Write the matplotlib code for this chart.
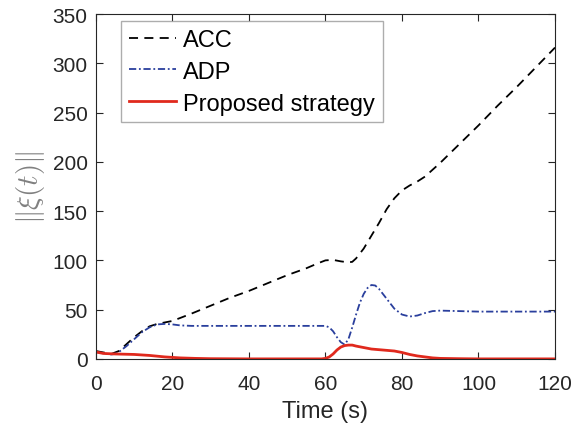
import numpy as np
import matplotlib
matplotlib.use('Agg')
import matplotlib.pyplot as plt

plt.rcParams['font.family'] = ['Liberation Sans', 'DejaVu Sans']
plt.rcParams['mathtext.fontset'] = 'cm'

# ===== Dati =====
t_acc = np.array([0, 2, 4, 6, 8, 10, 12, 14, 16, 18, 20, 25, 30, 35, 40, 45, 50, 55, 58, 60,
                  62, 64, 66, 67, 68, 70, 72, 74, 76, 78, 80, 82, 84, 86, 88, 90, 95, 100,
                  105, 110, 115, 120])
acc = np.array([8, 6.5, 5, 8, 15, 22, 28, 33, 35.5, 37, 38.5, 46, 54, 62, 69, 77, 85, 92, 97, 100,
                100.5, 99, 98, 98.5, 102, 112, 125, 138, 152, 163, 171, 176, 180, 185, 192, 199,
                218, 237, 257, 276, 296, 316])

t_adp = np.array([0, 2, 4, 5, 6, 8, 10, 12, 14, 16, 18, 20, 22, 25, 30, 40, 50, 58, 60, 61, 62,
                  63, 64, 65, 66, 67, 68, 69, 70, 71, 72, 73, 74, 76, 78, 80, 82, 84, 86, 88,
                  90, 95, 100, 110, 120])
adp = np.array([7, 5.5, 4.5, 5, 7, 13, 20, 27, 32, 35, 35.5, 35, 34, 33.5, 33.5, 33.5, 33.5,
                33.5, 33.5, 32, 28, 22, 17, 14.5, 20, 32, 45, 57, 66, 72, 75, 74.5, 71, 61, 51,
                45, 43, 44, 46.5, 48.5, 49, 48.5, 48, 48, 48])

t_prop = np.array([0, 2, 5, 10, 14, 18, 22, 26, 30, 40, 59, 60, 61, 62, 63, 64, 65, 66, 67, 68,
                   70, 72, 75, 78, 80, 82, 84, 86, 88, 90, 95, 100, 120])
prop = np.array([7, 5.5, 5, 4.5, 3.5, 2, 1, 0.5, 0.2, 0, 0, 0.5, 2, 5, 9, 12, 13.5, 14, 14, 13,
                 11.5, 10, 9, 8, 6.5, 4.5, 3, 2, 1, 0.5, 0.2, 0, 0])

# ===== Grafico =====
fig = plt.figure(figsize=(5.71, 4.31), dpi=100)
ax = fig.add_axes([0.168, 0.165, 0.804, 0.800])

ax.plot(t_acc, acc, color='black', linestyle=(0, (5, 3.5)), linewidth=1.3, label='ACC')
ax.plot(t_adp, adp, color='#2a3f9d', linestyle=(0, (4, 1.5, 1, 1.5)), linewidth=1.3, label='ADP')
ax.plot(t_prop, prop, color='#e0291d', linestyle='-', linewidth=2.0, label='Proposed strategy')

ax.set_xlim(0, 120)
ax.set_ylim(0, 350)
ax.set_xticks(np.arange(0, 121, 20))
ax.set_yticks(np.arange(0, 351, 50))

ax.set_xlabel('Time (s)', fontsize=17, color='#262626', labelpad=5)
ax.set_ylabel(r'$\Vert\xi(t)\Vert$', fontsize=21, color='#808080', labelpad=4)

ax.tick_params(axis='both', which='both', direction='in', top=True, right=True,
               labelsize=15, colors='#262626', length=5)
ax.tick_params(axis='x', pad=11)
ax.tick_params(axis='y', pad=6)
for s in ax.spines.values():
    s.set_color('#262626')
    s.set_linewidth(0.8)

# Legenda
leg = ax.legend(loc='upper left', bbox_to_anchor=(0.0545, 0.98), fontsize=17, frameon=True,
                fancybox=False, edgecolor='#999999', handlelength=2.0, handletextpad=0.3,
                labelspacing=0.42, borderpad=0.33, borderaxespad=0.0)
leg.get_frame().set_linewidth(1.0)

fig.savefig('out.png', dpi=100)
